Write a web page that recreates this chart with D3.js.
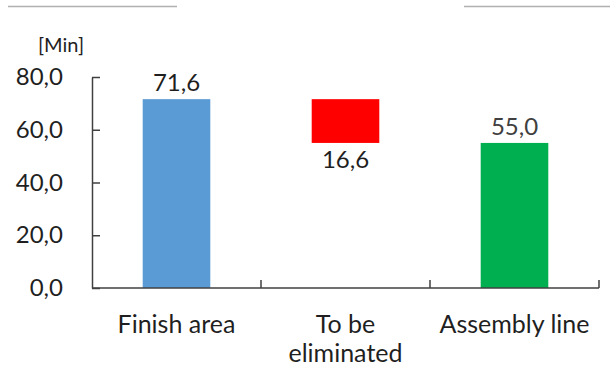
<!DOCTYPE html>
<html>
<head>
<meta charset="utf-8">
<script src="https://cdn.jsdelivr.net/npm/d3@7"></script>
<style>
  html, body { margin: 0; padding: 0; background: #fff; }
  svg { display: block; }
  text { font-family: Lato, "Open Sans", sans-serif; }
</style>
</head>
<body>
<svg id="chart" width="610" height="372"></svg>
<script>
// Waterfall: finish area time, portion to be eliminated, remaining assembly line time
const categories = [["Finish area"], ["To be", "eliminated"], ["Assembly line"]];
const values = [71.6, 16.6, 55.0];
const barColors = ["#5b9bd5", "#ff0000", "#00b050"];
const labelColors = ["#1f1f1f", "#1f1f1f", "#404040"];
const yTicks = [0, 20, 40, 60, 80];
const unitLabel = "[Min]";

// the eliminated part floats between the remaining time and the starting total
const bases = [0, values[0] - values[1], 0];
const tops = values.map((v, i) => bases[i] + v);

const svg = d3.select("#chart");
const fmt = v => d3.format(".1f")(v).replace(".", ",");

const x = d3.scaleBand().domain(d3.range(categories.length)).range([92, 599]).padding(0);
const y = d3.scaleLinear().domain([0, 80]).range([288, 77]);
const barW = x.bandwidth() * 0.4;

// decorative rules along the top edge
svg.append("line").attr("x1", 8).attr("x2", 177).attr("y1", 6.5).attr("y2", 6.5)
  .attr("stroke", "#b0b0b0").attr("stroke-width", 1.5);
svg.append("line").attr("x1", 464).attr("x2", 610).attr("y1", 6.5).attr("y2", 6.5)
  .attr("stroke", "#b0b0b0").attr("stroke-width", 1.5);

// bars
svg.append("g").selectAll("rect").data(values).join("rect")
  .attr("x", (d, i) => x(i) + x.bandwidth() / 2 - barW / 2)
  .attr("width", barW)
  .attr("y", (d, i) => y(tops[i]))
  .attr("height", (d, i) => y(bases[i]) - y(tops[i]))
  .attr("fill", (d, i) => barColors[i]);

// y axis
const yAxis = svg.append("g").attr("transform", "translate(92,0)")
  .call(d3.axisLeft(y).tickValues(yTicks).tickFormat(fmt).tickSizeInner(-8).tickSizeOuter(0).tickPadding(29));
yAxis.select(".domain").attr("stroke", "#404040").attr("stroke-width", 1.5);
yAxis.selectAll(".tick line").attr("stroke", "#404040").attr("stroke-width", 1.5);
yAxis.selectAll(".tick text").attr("fill", "#1f1f1f").attr("font-size", 24)
  .attr("font-family", "Lato, 'Open Sans', sans-serif");

// x axis with ticks at the category boundaries
const xAxis = svg.append("g").attr("transform", "translate(0,288)");
xAxis.append("line").attr("x1", 92).attr("x2", 599).attr("y1", 0).attr("y2", 0)
  .attr("stroke", "#404040").attr("stroke-width", 1.5);
xAxis.selectAll("line.bound").data(d3.range(categories.length)).join("line")
  .attr("class", "bound")
  .attr("x1", i => x(i) + x.bandwidth()).attr("x2", i => x(i) + x.bandwidth())
  .attr("y1", 0).attr("y2", -8)
  .attr("stroke", "#404040").attr("stroke-width", 1.5);

// category labels
const catText = svg.append("g").selectAll("text").data(categories).join("text")
  .attr("text-anchor", "middle")
  .attr("font-size", 25)
  .attr("fill", "#1f1f1f");
catText.each(function(lines, i) {
  d3.select(this).selectAll("tspan").data(lines).join("tspan")
    .attr("x", x(i) + x.bandwidth() / 2)
    .attr("y", (l, j) => 333 + j * 29)
    .text(l => l);
});

// value labels: above the standing bars, below the floating one
svg.append("g").selectAll("text").data(values).join("text")
  .attr("x", (d, i) => x(i) + x.bandwidth() / 2)
  .attr("y", (d, i) => i === 1 ? y(bases[i]) + 25 : y(tops[i]) - 8)
  .attr("text-anchor", "middle")
  .attr("font-size", 24)
  .attr("fill", (d, i) => labelColors[i])
  .text(d => fmt(d));

// unit label
svg.append("text").attr("x", 61).attr("y", 52).attr("text-anchor", "middle")
  .attr("font-size", 20).attr("fill", "#1f1f1f").text(unitLabel);
</script>
</body>
</html>
